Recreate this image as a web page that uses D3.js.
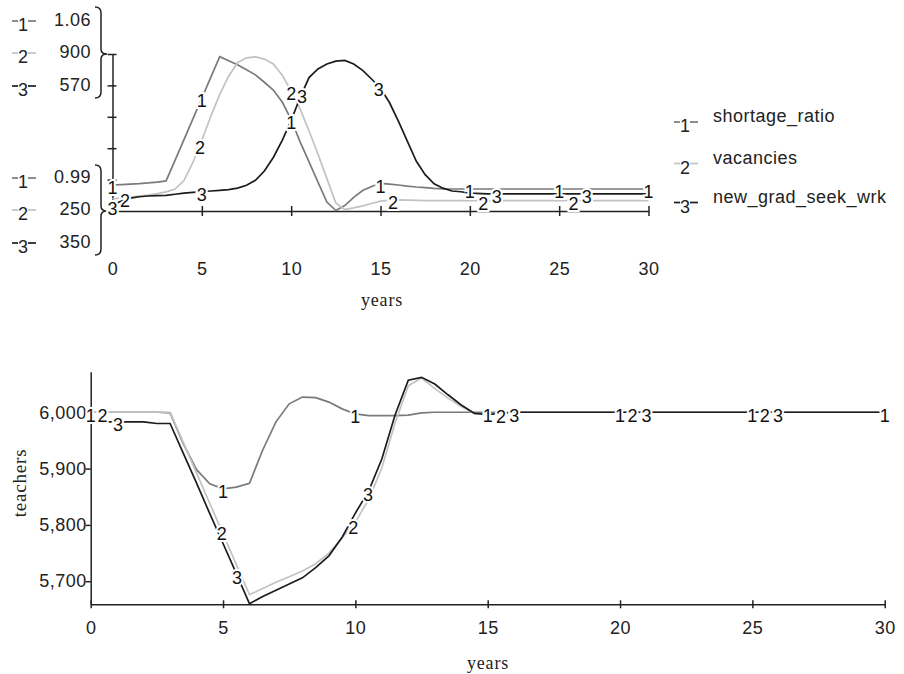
<!DOCTYPE html>
<html>
<head>
<meta charset="utf-8">
<script src="https://cdn.jsdelivr.net/npm/d3@7"></script>
<style>
body { margin: 0; background: #fff; }
svg { display: block; font-family: "Liberation Sans", Arial, sans-serif; }
.tick text { font-size: 18px; letter-spacing: 0.5px; fill: #222; }
.domain, .tick line { stroke: #222; stroke-width: 1.5; }
.serif { font-family: "Liberation Serif", "Times New Roman", serif; font-size: 18px; letter-spacing: 0.8px; fill: #222; }
</style>
</head>
<body>
<svg width="904" height="674"></svg>
<script>
// time axis shared by both charts
var years = [0,0.5,1,1.5,2,2.5,3,3.5,4,4.5,5,5.5,6,6.5,7,7.5,8,8.5,9,9.5,
             10,10.5,11,11.5,12,12.5,13,13.5,14,14.5,15,15.5,16,16.5,17,17.5,18,18.5,19,19.5,
             20,21,22,23,24,25,26,27,28,29,30];
var xTicks = [0,5,10,15,20,25,30];

// top chart, one scale per series
var seriesNames = ["shortage_ratio", "vacancies", "new_grad_seek_wrk"];
var shortageRange = [0.99, 1.06];
var vacancyRange = [250, 900];
var gradRange = [350, 570];

var shortageRatio = [1.0016,1.0018,1.0020,1.0022,1.0025,1.0029,1.0034,1.0126,1.0218,1.0311,
                     1.0403,1.0496,1.0588,1.0570,1.0552,1.0530,1.0507,1.0474,1.0439,1.0386,
                     1.0308,1.0208,1.0119,1.0029,0.9940,0.9902,0.9924,0.9961,0.9991,1.0009,
                     1.0023,1.0020,1.0016,1.0011,1.0007,1.0004,1.0001,0.9999,0.9998,0.9998,
                     0.9998,0.9998,0.9998,0.9998,0.9998,0.9998,0.9998,0.9998,0.9998,0.9998,0.9998];
var vacancies = [300,304,308,312,316,322,329,341,376,451,
                 543,642,733,808,864,884,888,879,859,812,
                 747,673,581,486,384,283,256,263,271,281,
                 291,295,296,295,294,293,293,293,293,293,
                 293,293,293,293,293,293,293,293,293,293,293];
var newGradSeekWrk = [358,364,368,370,371,371.5,372,373.5,375,376,
                      377,378,379,380,382,386,393,406,425,449,
                      477,509,537,549,556,560,561,556,547,535,
                      522,502,476,448,420,401,388,382,378,377,
                      375,374,374,374,374,374,374,374,374,374,374];

// bottom chart: teachers, three runs
var teachersRange = [5659, 6072];
var teacherTicks = [5700, 5800, 5900, 6000];
var teachers1 = [6000,6000,6000,6000,6000,6000,5999,5944,5898,5873,
                 5864,5867,5874,5933,5983,6015,6027,6026,6018,6006,
                 5997,5994,5994,5994,5995,5999,6000,6000,6000,6000,
                 6000,6000,6000,6000,6000,6000,6000,6000,6000,6000,
                 6000,6000,6000,6000,6000,6000,6000,6000,6000,6000,6000];
var teachers2 = [6000,6000,6000,6000,6000,6000,6000,5946,5892,5838,
                 5784,5730,5676,5687,5698,5708,5718,5731,5750,5777,
                 5805,5845,5901,5981,6047,6061,6042,6025,6010,5998,
                 5996,5998,6000,6000,6000,6000,6000,6000,6000,6000,
                 6000,6000,6000,6000,6000,6000,6000,6000,6000,6000,6000];
var teachers3 = [5983,5983,5983,5983,5983,5980,5980,5927,5874,5820,
                 5767,5714,5660,5673,5684,5695,5706,5724,5745,5778,
                 5821,5860,5917,5995,6057,6062,6050,6031,6013,5998,
                 5996,5998,6000,6000,6000,6000,6000,6000,6000,6000,
                 6000,6000,6000,6000,6000,6000,6000,6000,6000,6000,6000];

// where the numbers sit on the lines
var topLabelTimes = [[0,5,10,15,20,25,30], [0.7,4.9,10,15.7,20.75,25.8], [0,5,10.6,14.9,21.5,26.55]];
var botLabelTimes = [[0,5,10,15,20,25,30], [0.45,4.95,9.92,15.5,20.47,25.47], [1.03,5.53,10.48,16,21,25.97]];

var colors = ["#7a7a7a", "#c2c2c2", "#1c1c1c"];

var svg = d3.select("svg");
svg.append("rect").attr("width", 904).attr("height", 674).attr("fill", "#fff");

function valueAt(vals, t) {
    var i = d3.bisectLeft(years, t);
    if (i <= 0) return vals[0];
    if (i >= years.length) return vals[vals.length - 1];
    var t0 = years[i-1], t1 = years[i];
    return vals[i-1] + (vals[i] - vals[i-1]) * (t - t0) / (t1 - t0);
}

function drawSeries(g, x, ys, data, labelTimes) {
    data.forEach(function(vals, k) {
        g.append("path")
         .datum(vals)
         .attr("fill", "none")
         .attr("stroke", colors[k])
         .attr("stroke-width", 1.7)
         .attr("d", d3.line().x(function(d, i) { return x(years[i]); }).y(function(d) { return ys[k](d); }));
    });
    data.forEach(function(vals, k) {
        g.selectAll(".lab" + k)
         .data(labelTimes[k])
         .enter().append("text")
         .attr("x", function(t) { return x(t); })
         .attr("y", function(t) { return ys[k](valueAt(vals, t)) + 3; })
         .attr("dy", "0.35em")
         .attr("text-anchor", "middle")
         .attr("font-size", "18px")
         .attr("fill", "#111")
         .attr("stroke", "#fff")
         .attr("stroke-width", 4)
         .attr("paint-order", "stroke")
         .text(k + 1);
    });
}

// little "-1-" markers
function marker(cx, cy, k) {
    svg.append("line").attr("x1", cx - 11).attr("x2", cx - 5).attr("y1", cy).attr("y2", cy)
       .attr("stroke", colors[k]).attr("stroke-width", 1.7);
    svg.append("line").attr("x1", cx + 5).attr("x2", cx + 13).attr("y1", cy).attr("y2", cy)
       .attr("stroke", colors[k]).attr("stroke-width", 1.7);
    svg.append("text").attr("x", cx).attr("y", cy + 4).attr("dy", "0.35em")
       .attr("text-anchor", "middle").attr("font-size", "18px").attr("fill", "#222").text(k + 1);
}

// ---------- top chart ----------
var xTop = d3.scaleLinear().domain([0, 30]).range([112.5, 648.5]);
var topYs = [
    d3.scaleLinear().domain(shortageRange).range([211, 54]),
    d3.scaleLinear().domain(vacancyRange).range([211, 54]),
    d3.scaleLinear().domain(gradRange).range([211, 54])
];

var gyTop = svg.append("g").attr("transform", "translate(112.5,0)")
    .call(d3.axisLeft(topYs[1]).tickValues(d3.range(250, 901, 130)).tickSize(5).tickSizeOuter(0).tickFormat(""));
gyTop.selectAll(".tick line").attr("x1", 4);

var gxTop = svg.append("g").attr("transform", "translate(0,211)")
    .call(d3.axisBottom(xTop).tickValues(xTicks).tickSize(5).tickSizeOuter(0).tickPadding(46));
gxTop.selectAll(".tick line").attr("y1", -5);

svg.append("text").attr("class", "serif").attr("x", 382).attr("y", 300).attr("dy", "0.35em")
   .attr("text-anchor", "middle").text("years");

// scale labels with braces
var maxLabels = [d3.format(".2f")(shortageRange[1]), vacancyRange[1], gradRange[1]];
var minLabels = [d3.format(".2f")(shortageRange[0]), vacancyRange[0], gradRange[0]];
var topRowsY = [20, 52, 85];
var botRowsY = [177, 209, 242];
[[maxLabels, topRowsY], [minLabels, botRowsY]].forEach(function(grp) {
    grp[0].forEach(function(lab, k) {
        var y = grp[1][k];
        svg.append("text").attr("x", 91).attr("y", y).attr("dy", "0.35em")
           .attr("text-anchor", "end").attr("font-size", "18px").attr("letter-spacing", "0.5px")
           .attr("fill", "#222").text(lab);
        marker(23, y + 1, k);
    });
});
function brace(y0, ym, y1) {
    var p = "M95," + y0 + " Q101," + y0 + " 101," + (y0 + 6) +
            " L101," + (ym - 5) + " Q101," + ym + " 107," + ym +
            " Q101," + ym + " 101," + (ym + 5) +
            " L101," + (y1 - 6) + " Q101," + y1 + " 95," + y1;
    svg.append("path").attr("d", p).attr("fill", "none").attr("stroke", "#222").attr("stroke-width", 1.5);
}
brace(7, 54, 98);
brace(165, 211, 255);

var gTop = svg.append("g");
drawSeries(gTop, xTop, topYs, [shortageRatio, vacancies, newGradSeekWrk], topLabelTimes);

// legend
var legendY = [116, 157.5, 196.5];
seriesNames.forEach(function(name, k) {
    marker(685, legendY[k] + 6, k);
    svg.append("text").attr("x", 713).attr("y", legendY[k]).attr("dy", "0.35em")
       .attr("font-size", "18px").attr("letter-spacing", "0.5px").attr("fill", "#222").text(name);
});

// ---------- bottom chart ----------
var xBot = d3.scaleLinear().domain([0, 30]).range([90.7, 884.7]);
var yBot = d3.scaleLinear().domain(teachersRange).range([604.3, 371.7]);

svg.append("g").attr("transform", "translate(90.7,0)")
    .call(d3.axisLeft(yBot).tickValues(teacherTicks).tickSize(5).tickSizeOuter(0).tickPadding(-1)
    .tickFormat(d3.format(",")));

var gxBot = svg.append("g").attr("transform", "translate(0,604.3)")
    .call(d3.axisBottom(xBot).tickValues(xTicks).tickSize(4).tickSizeOuter(0).tickPadding(13));
gxBot.selectAll(".tick line").attr("y1", -4);

svg.append("text").attr("class", "serif").attr("x", 488).attr("y", 663).attr("dy", "0.35em")
   .attr("text-anchor", "middle").text("years");
svg.append("text").attr("class", "serif").attr("transform", "translate(19,483) rotate(-90)")
   .attr("dy", "0.35em").attr("text-anchor", "middle").style("font-size", "19px").text("teachers");

var gBot = svg.append("g");
drawSeries(gBot, xBot, [yBot, yBot, yBot], [teachers1, teachers2, teachers3], botLabelTimes);
</script>
</body>
</html>
